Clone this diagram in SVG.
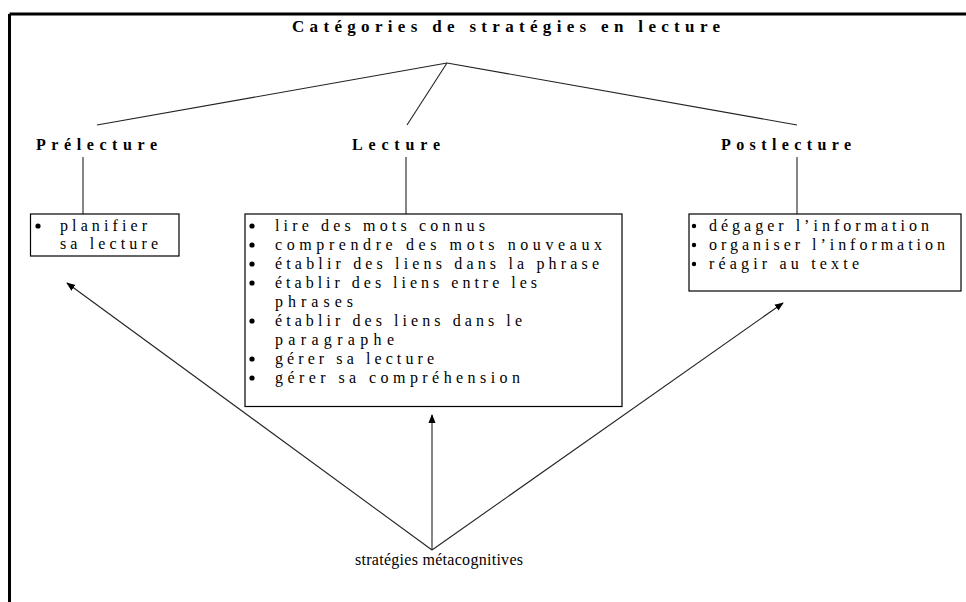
<svg xmlns="http://www.w3.org/2000/svg" width="966" height="602" viewBox="0 0 966 602" font-family="'Liberation Serif', 'DejaVu Serif', serif">
<style>
  text { font-family: "Liberation Serif", "DejaVu Serif", serif; fill: #000; }
  .title { font-size: 17px; font-weight: bold; }
  .head { font-size: 16px; font-weight: bold; }
  .item { font-size: 16px; }
  .meta { font-size: 16px; }
  .box { fill: #fff; stroke: #000; stroke-width: 1.2; }
  .ln { stroke: #222; stroke-width: 1.1; fill: none; }
  .arr { stroke: #222; stroke-width: 1.1; fill: none; marker-end: url(#ah); }
  .bul { fill: #000; }
</style>
<defs>
  <marker id="ah" viewBox="0 0 10 10" refX="9" refY="5" markerWidth="9" markerHeight="9" markerUnits="userSpaceOnUse" orient="auto">
    <path d="M0,1 L10,5 L0,9 Z" fill="#000"/>
  </marker>
</defs>
<rect width="966" height="602" fill="#fff"/>
<g id="frame">
  <line x1="9.5" y1="14" x2="966" y2="14" stroke="#000" stroke-width="3"/>
  <line x1="9.5" y1="14" x2="9.5" y2="602" stroke="#000" stroke-width="3"/>
</g>
<g id="title">
  <text class="title" x="292" y="32" textLength="428" lengthAdjust="spacing">Catégories de stratégies en lecture</text>
</g>
<g id="connectors">
  <line class="ln" x1="447" y1="63" x2="97" y2="125"/>
  <line class="ln" x1="447" y1="63" x2="407" y2="125"/>
  <line class="ln" x1="447" y1="63" x2="797" y2="125"/>
  <line class="ln" x1="83" y1="157" x2="83" y2="214"/>
  <line class="ln" x1="406" y1="157" x2="406" y2="214"/>
  <line class="ln" x1="797" y1="157" x2="797" y2="214"/>
  <line class="arr" x1="432" y1="550" x2="67" y2="283"/>
  <line class="arr" x1="432" y1="550" x2="432" y2="415"/>
  <line class="arr" x1="432" y1="550" x2="783" y2="303"/>
</g>
<g id="prelecture">
  <text class="head" x="36" y="150" textLength="121" lengthAdjust="spacing">Prélecture</text>
  <rect class="box" x="30.5" y="214" width="148.5" height="42"/>
  <circle class="bul" cx="38" cy="226" r="2.6"/>
  <text class="item" x="60" y="231" textLength="87" lengthAdjust="spacing">planifier</text>
  <text class="item" x="60" y="249" textLength="98" lengthAdjust="spacing">sa lecture</text>
</g>
<g id="lecture">
  <text class="head" x="352" y="150" textLength="88" lengthAdjust="spacing">Lecture</text>
  <rect class="box" x="245" y="214" width="377" height="192.5"/>
  <g class="bul">
    <circle cx="252" cy="226" r="2.6"/>
    <circle cx="252" cy="245" r="2.6"/>
    <circle cx="252" cy="264" r="2.6"/>
    <circle cx="252" cy="283" r="2.6"/>
    <circle cx="252" cy="321" r="2.6"/>
    <circle cx="252" cy="359" r="2.6"/>
    <circle cx="252" cy="378" r="2.6"/>
  </g>
  <text class="item" x="275" y="231" textLength="210" lengthAdjust="spacing">lire des mots connus</text>
  <text class="item" x="275" y="250" textLength="327" lengthAdjust="spacing">comprendre des mots nouveaux</text>
  <text class="item" x="275" y="269" textLength="324" lengthAdjust="spacing">établir des liens dans la phrase</text>
  <text class="item" x="275" y="288" textLength="262" lengthAdjust="spacing">établir des liens entre les</text>
  <text class="item" x="275" y="307" textLength="78" lengthAdjust="spacing">phrases</text>
  <text class="item" x="275" y="326" textLength="247" lengthAdjust="spacing">établir des liens dans le</text>
  <text class="item" x="275" y="345" textLength="119" lengthAdjust="spacing">paragraphe</text>
  <text class="item" x="275" y="364" textLength="159" lengthAdjust="spacing">gérer sa lecture</text>
  <text class="item" x="275" y="383" textLength="245" lengthAdjust="spacing">gérer sa compréhension</text>
</g>
<g id="postlecture">
  <text class="head" x="721" y="150" textLength="130" lengthAdjust="spacing">Postlecture</text>
  <rect class="box" x="689" y="214" width="272" height="77"/>
  <g class="bul">
    <circle cx="694" cy="226" r="2.2"/>
    <circle cx="694" cy="245" r="2.2"/>
    <circle cx="694" cy="264" r="2.2"/>
  </g>
  <text class="item" x="709" y="231" textLength="220" lengthAdjust="spacing">dégager l’information</text>
  <text class="item" x="709" y="250" textLength="236" lengthAdjust="spacing">organiser l’information</text>
  <text class="item" x="709" y="269" textLength="150" lengthAdjust="spacing">réagir au texte</text>
</g>
<g id="metacognitives">
  <text class="meta" x="355" y="565" textLength="168" lengthAdjust="spacing">stratégies métacognitives</text>
</g>
</svg>
